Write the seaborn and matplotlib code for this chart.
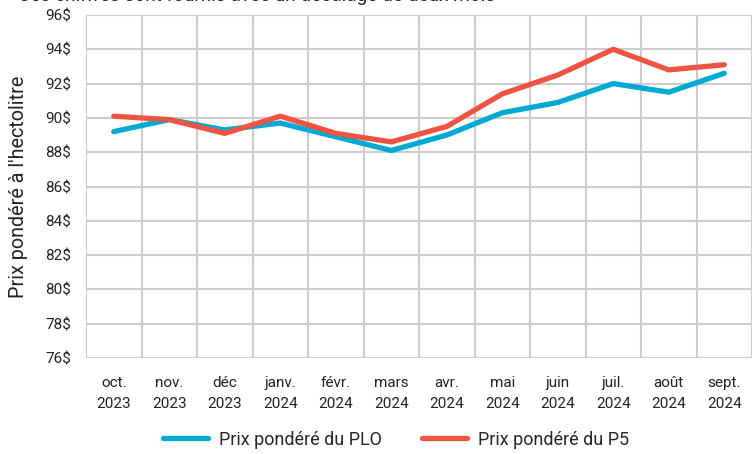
import pandas as pd
import numpy as np
import seaborn as sns
import matplotlib.pyplot as plt
from matplotlib.ticker import FixedLocator

# Data
months = ["oct.\n2023", "nov.\n2023", "déc\n2023", "janv.\n2024", "févr.\n2024", "mars\n2024",
          "avr.\n2024", "mai\n2024", "juin\n2024", "juil.\n2024", "août\n2024", "sept.\n2024"]
prix_plo = [89.2, 89.9, 89.3, 89.7, 88.9, 88.1, 89.0, 90.3, 90.9, 92.0, 91.5, 92.6]
prix_p5 = [90.1, 89.9, 89.1, 90.1, 89.1, 88.6, 89.5, 91.4, 92.5, 94.0, 92.8, 93.1]
y_ticks = list(range(76, 97, 2))
series_names = ["Prix pondéré du PLO", "Prix pondéré du P5"]

df = pd.DataFrame({"x": list(range(len(months))) * 2,
                   "prix": prix_plo + prix_p5,
                   "serie": [series_names[0]] * len(months) + [series_names[1]] * len(months)})

sns.set_style("white")
plt.rcParams["font.family"] = ["Roboto", "DejaVu Sans"]

fig = plt.figure(figsize=(7.52, 4.54), dpi=100)
ax = fig.add_axes([86 / 752, 96 / 454, 666 / 752, 343 / 454])

sns.lineplot(data=df, x="x", y="prix", hue="serie", ax=ax, linewidth=3.8,
             palette=["#00A8D4", "#EE5441"], solid_capstyle="round", legend=True)

ax.set_xlim(-0.5, len(months) - 0.5)
ax.set_ylim(76, 96)
ax.set_yticks(y_ticks)
ax.set_yticklabels([f"{v}$" for v in y_ticks])
ax.set_xticks(range(len(months)))
ax.set_xticklabels(months, linespacing=1.6)
ax.xaxis.set_minor_locator(FixedLocator(np.arange(-0.5, len(months), 1)))

grid_col = "#cccccc"
ax.grid(True, axis="y", color=grid_col, linewidth=1.5)
ax.grid(True, axis="x", which="minor", color=grid_col, linewidth=1.5)
ax.grid(False, axis="x", which="major")
ax.tick_params(axis="x", which="major", length=0, pad=13, labelsize=11, colors="#222222")
ax.tick_params(axis="x", which="minor", length=5, width=1.5, color=grid_col)
ax.tick_params(axis="y", length=6, width=1.5, color=grid_col, labelsize=11, pad=4.5, labelcolor="#222222")
for s in ax.spines.values():
    s.set_visible(False)
ax.set_axisbelow(True)

ax.set_xlabel("")
ax.set_ylabel("Prix pondéré à l'hectolitre", fontsize=14.2, color="#222222")
ax.yaxis.set_label_coords(-58 / 666, 0.5)

handles, labels = ax.get_legend_handles_labels()
ax.legend(handles, labels, loc="lower center", bbox_to_anchor=(0.5 - 43 / 666 + 0.03, -0.285),
          ncol=2, frameon=False, fontsize=13, handlelength=2.5, columnspacing=2.2,
          handletextpad=0.6, borderaxespad=0)

fig.text(0.024, 1.008, "Ces chiffres sont fournis avec un décalage de deux mois", fontsize=13.7,
         color="#222222", va="center")

fig.savefig("out.png", dpi=100)
